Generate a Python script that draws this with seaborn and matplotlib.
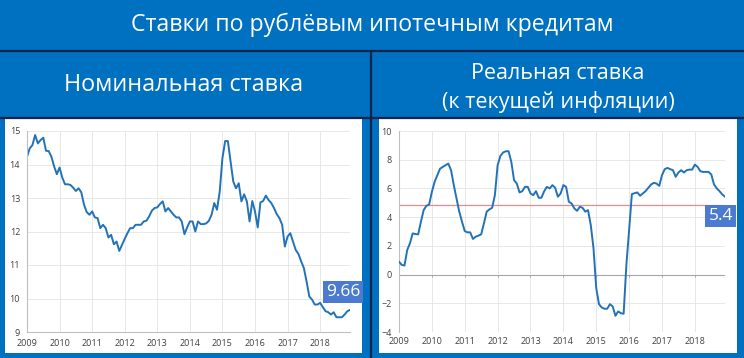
import matplotlib
matplotlib.use("Agg")
import matplotlib.pyplot as plt
from matplotlib.patches import Rectangle
from matplotlib.lines import Line2D
import seaborn as sns
import numpy as np
import pandas as pd

TITLE = "Ставки по рублёвым ипотечным кредитам"
LEFT_HEADER = "Номинальная ставка"
RIGHT_HEADER = "Реальная ставка\n(к текущей инфляции)"

YEARS = list(range(2009, 2019))

# monthly values, Jan 2009 .. Dec 2018
nominal = [
    14.23, 14.48, 14.58, 14.88, 14.63, 14.73, 14.80, 14.41, 14.40, 14.23, 13.94, 13.71,  # 2009
    13.91, 13.61, 13.41, 13.41, 13.39, 13.31, 13.21, 13.29, 13.17, 12.80, 12.58, 12.50,  # 2010
    12.60, 12.42, 12.40, 12.10, 12.20, 12.10, 11.82, 11.90, 11.62, 11.70, 11.42, 11.60,  # 2011
    11.78, 11.95, 12.10, 12.10, 12.20, 12.20, 12.20, 12.30, 12.32, 12.45, 12.62, 12.70,  # 2012
    12.72, 12.82, 12.90, 12.60, 12.70, 12.60, 12.50, 12.42, 12.42, 12.30, 11.92, 12.12,  # 2013
    12.30, 12.30, 12.00, 12.30, 12.22, 12.22, 12.24, 12.32, 12.50, 12.85, 12.65, 13.19,  # 2014
    14.19, 14.70, 14.70, 14.09, 13.49, 13.29, 13.44, 12.90, 13.11, 12.90, 12.30, 12.91,  # 2015
    12.60, 12.12, 12.87, 12.91, 13.07, 12.94, 12.85, 12.70, 12.52, 12.40, 12.20, 11.55,  # 2016
    11.85, 11.95, 11.70, 11.45, 11.33, 11.11, 10.91, 10.51, 10.06, 9.97, 9.82, 9.82,     # 2017
    9.87, 9.74, 9.62, 9.59, 9.52, 9.59, 9.44, 9.44, 9.44, 9.52, 9.62, 9.66,              # 2018
]
real = [
    0.90, 0.67, 0.63, 1.71, 2.18, 2.87, 2.82, 2.80, 3.68, 4.49, 4.79, 4.88,              # 2009
    5.76, 6.46, 6.92, 7.38, 7.50, 7.62, 7.73, 7.27, 6.23, 5.30, 4.38, 3.68,              # 2010
    3.03, 2.94, 2.94, 2.48, 2.64, 2.71, 2.80, 3.56, 4.38, 4.54, 4.65, 5.53,              # 2011
    7.62, 8.26, 8.50, 8.59, 8.59, 7.85, 6.57, 6.34, 5.72, 5.81, 6.11, 6.11,              # 2012
    5.65, 5.53, 5.81, 5.35, 5.35, 5.81, 6.11, 6.00, 6.23, 6.04, 5.42, 5.65,              # 2013
    6.23, 6.11, 5.07, 4.95, 4.61, 4.44, 4.72, 4.65, 4.38, 4.49, 3.45, 1.83,              # 2014
    -0.95, -2.06, -2.29, -2.38, -2.38, -2.06, -2.22, -2.87, -2.57, -2.69, -2.73, 0.67,   # 2015
    3.10, 5.60, 5.67, 5.72, 5.49, 5.65, 5.81, 6.04, 6.27, 6.39, 6.34, 6.18,              # 2016
    6.92, 7.34, 7.43, 7.34, 7.27, 6.81, 7.11, 7.27, 7.11, 7.27, 7.31, 7.31,              # 2017
    7.66, 7.50, 7.20, 7.15, 7.15, 7.15, 6.97, 6.27, 6.00, 5.81, 5.58, 5.42,              # 2018
]
real_reference = 4.88
nominal_label = "9.66"
real_label = "5.4"

nominal_yticks = [9, 10, 11, 12, 13, 14, 15]
real_yticks = [-4, -2, 0, 2, 4, 6, 8, 10]

# colours
BLUE_BG = "#0070C0"
NAVY = "#13234A"
LINE = "#2272B8"
LABEL_BOX = "#4A7BD0"
GRID = "#E4E4E4"
TEXT = "#404040"
REF_RED = "#EE8A8A"

sns.set_style("white")
plt.rcParams["font.family"] = ["Open Sans", "DejaVu Sans"]

months = np.arange(len(nominal))
df = pd.DataFrame({
    "t": 2009 + months / 12,
    "nominal": nominal,
    "real": real,
})

W, H = 744, 358
fig = plt.figure(figsize=(W / 100, H / 100), dpi=100)
fig.patch.set_facecolor(BLUE_BG)


def px_rect(x0, y0, x1, y1, **kw):
    fig.add_artist(Rectangle((x0 / W, 1 - y1 / H), (x1 - x0) / W, (y1 - y0) / H,
                             transform=fig.transFigure, zorder=-10, **kw))


def px_line(xs, ys, **kw):
    fig.add_artist(Line2D([x / W for x in xs], [1 - y / H for y in ys],
                          transform=fig.transFigure, zorder=-5, **kw))


# white panels and header separators
px_rect(5, 118, 362, 353, facecolor="white", edgecolor="none")
px_rect(379, 118, 737, 353, facecolor="white", edgecolor="none")
px_line([0, W], [51, 51], color=NAVY, lw=1.6)
px_line([0, W], [117.5, 117.5], color=NAVY, lw=1.6)
px_line([370.5, 370.5], [51, H], color=NAVY, lw=1.6)

fig.text(0.5, 1 - 25 / H, TITLE, color="white", fontsize=16.7, ha="center", va="center")
fig.text(184 / W, 1 - 85 / H, LEFT_HEADER, color="white", fontsize=16.8, ha="center", va="center")
fig.text(558 / W, 1 - 88 / H, RIGHT_HEADER, color="white", fontsize=15.5, ha="center",
         va="center", linespacing=1.4)

ax1 = fig.add_axes([27 / W, 1 - 332 / H, 323 / W, 201 / H])
ax2 = fig.add_axes([399 / W, 1 - 332 / H, 326 / W, 201 / H])


def style_axes(ax, yticks):
    ax.set_facecolor("none")
    ax.set_xlim(2009, 2009 + (len(nominal) - 1) / 12)
    ax.set_ylim(yticks[0], yticks[-1])
    ax.set_xticks(YEARS)
    ax.set_xticklabels([str(y) for y in YEARS])
    ax.set_yticks(yticks)
    ax.grid(True, color=GRID, lw=0.6)
    ax.set_axisbelow(True)
    for side in ["top", "right"]:
        ax.spines[side].set_visible(False)
    for side in ["left", "bottom"]:
        ax.spines[side].set_color("#BFBFBF")
        ax.spines[side].set_linewidth(0.8)
    ax.tick_params(axis="both", labelsize=6.5, labelcolor=TEXT, length=3,
                   color="#BFBFBF", width=0.7, pad=2)
    ax.set_xlabel("")
    ax.set_ylabel("")


sns.lineplot(data=df, x="t", y="nominal", ax=ax1, color=LINE, lw=1.4)
style_axes(ax1, nominal_yticks)
ax1.annotate(nominal_label, (df["t"].iloc[-1], nominal[-1]), xytext=(-5, 13),
             textcoords="offset points", ha="center", va="center", color="white",
             fontsize=12.5, annotation_clip=False,
             bbox=dict(boxstyle="square,pad=0.18", fc=LABEL_BOX, ec="none"))

sns.lineplot(data=df, x="t", y="real", ax=ax2, color=LINE, lw=1.4, zorder=3)
style_axes(ax2, real_yticks)
ax2.spines["bottom"].set_visible(False)
ax2.tick_params(axis="x", length=0, pad=3.5)
ax2.axhline(0, color="#A6A6A6", lw=0.8, zorder=2)
ax2.vlines(YEARS, -0.18, 0, color="#A6A6A6", lw=0.7, zorder=2)
ax2.axhline(real_reference, color=REF_RED, lw=0.9, zorder=2.5)
ax2.annotate(real_label, (df["t"].iloc[-1], real[-1]), xytext=(-3, -14),
             textcoords="offset points", ha="center", va="center", color="white",
             fontsize=12.5, annotation_clip=False,
             bbox=dict(boxstyle="square,pad=0.18", fc=LABEL_BOX, ec="none"))

fig.savefig("out.png", dpi=100, facecolor=fig.get_facecolor())
